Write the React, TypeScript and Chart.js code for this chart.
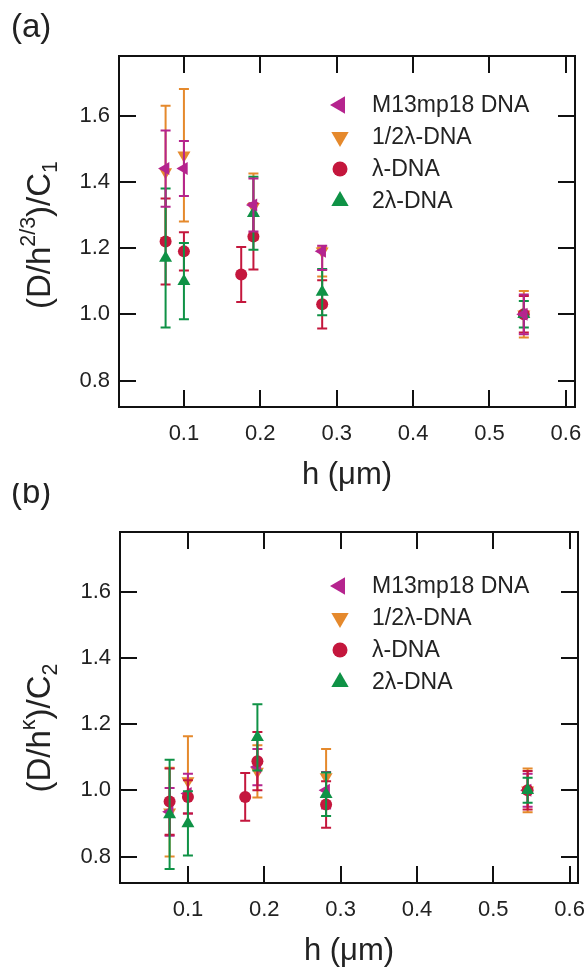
import React, { useEffect, useRef } from "react";
import { Chart, registerables } from "chart.js";
Chart.register(...registerables);

const FONT = "'Liberation Sans', Arial, sans-serif";

const seriesNames = ["M13mp18 DNA", "1/2λ-DNA", "λ-DNA", "2λ-DNA"];
const seriesColors = ["#b5248e", "#e5892c", "#c4173d", "#0f9246"];
const xTicks = [0.1, 0.2, 0.3, 0.4, 0.5, 0.6];
const yTicks = [0.8, 1.0, 1.2, 1.4, 1.6];

// h positions (µm) of each series
const hM13 = [0.076, 0.1, 0.191, 0.281, 0.545];
const hHalf = [0.076, 0.1, 0.191, 0.281, 0.545];
const hLambda = [0.076, 0.1, 0.175, 0.191, 0.281, 0.545];
const h2Lambda = [0.076, 0.1, 0.191, 0.281, 0.545];

// Panel (a): (D/h^{2/3})/C1
const aM13 = [1.44, 1.44, 1.33, 1.19, 1.0];
const aM13Lo = [0.115, 0.083, 0.08, 0.056, 0.06];
const aM13Hi = [0.115, 0.083, 0.08, 0.017, 0.06];
const aHalf = [1.43, 1.48, 1.325, 1.19, 1.0];
const aHalfLo = [0.2, 0.2, 0.1, 0.076, 0.07];
const aHalfHi = [0.2, 0.2, 0.1, 0.012, 0.07];
const aLambda = [1.22, 1.19, 1.12, 1.235, 1.03, 1.0];
const aLambdaErr = [0.13, 0.058, 0.083, 0.1, 0.073, 0.055];
const a2Lambda = [1.17, 1.1, 1.305, 1.067, 1.0];
const a2LambdaErr = [0.21, 0.115, 0.11, 0.07, 0.04];

// Panel (b): (D/h^κ)/C2
const bM13 = [0.935, 0.99, 1.07, 1.0, 1.0];
const bM13Err = [0.072, 0.06, 0.055, 0.055, 0.05];
const bHalf = [0.934, 1.028, 1.057, 1.04, 1.0];
const bHalfErr = [0.134, 0.135, 0.079, 0.085, 0.066];
const bLambda = [0.966, 0.98, 0.98, 1.088, 0.957, 1.0];
const bLambdaErr = [0.1, 0.05, 0.072, 0.088, 0.07, 0.058];
const b2Lambda = [0.927, 0.9, 1.16, 0.988, 1.0];
const b2LambdaErr = [0.165, 0.097, 0.1, 0.066, 0.038];

const markerStyles = [
  { style: "triangle", rotation: -90, r: 7.5, lr: 10 },
  { style: "triangle", rotation: 180, r: 7.5, lr: 10 },
  { style: "circle", rotation: 0, r: 6, lr: 7.5 },
  { style: "triangle", rotation: 0, r: 7.5, lr: 10 },
];

function drawMarker(ctx: CanvasRenderingContext2D, kind: number, x: number, y: number, r: number, color: string) {
  const m = markerStyles[kind];
  ctx.save();
  ctx.fillStyle = color;
  ctx.beginPath();
  if (m.style === "circle") {
    ctx.arc(x, y, r, 0, Math.PI * 2);
  } else {
    let rad = (m.rotation * Math.PI) / 180;
    ctx.moveTo(x + Math.sin(rad) * r, y - Math.cos(rad) * r);
    rad += (2 * Math.PI) / 3;
    ctx.lineTo(x + Math.sin(rad) * r, y - Math.cos(rad) * r);
    rad += (2 * Math.PI) / 3;
    ctx.lineTo(x + Math.sin(rad) * r, y - Math.cos(rad) * r);
    ctx.closePath();
  }
  ctx.fill();
  ctx.restore();
}

type Seg = { t: string; k: "n" | "sup" | "sub" };

type Panel = {
  label: string;
  titleSegs: Seg[];
  titleCenterY: number;
  xMin: number;
  xMax: number;
  padTop: number;
  padRight: number;
  yAxisWidth: number;
  xAxisHeight: number;
  height: number;
  legendX: number;
  legendY: number;
  labelY: number;
  order: number[];
  series: { xs: number[]; ys: number[]; lo: number[]; hi: number[] }[];
};

const panelA: Panel = {
  label: "(a)",
  titleSegs: [
    { t: "(D/h", k: "n" },
    { t: "2/3", k: "sup" },
    { t: ")/C", k: "n" },
    { t: "1", k: "sub" },
  ],
  titleCenterY: 235,
  xMin: 0.015,
  xMax: 0.612,
  padTop: 56,
  padRight: 12,
  yAxisWidth: 119,
  xAxisHeight: 93,
  height: 500,
  legendX: 340,
  legendY: 105,
  labelY: 28,
  order: [1, 4, 3, 2],
  series: [
    { xs: hM13, ys: aM13, lo: aM13Lo, hi: aM13Hi },
    { xs: hHalf, ys: aHalf, lo: aHalfLo, hi: aHalfHi },
    { xs: hLambda, ys: aLambda, lo: aLambdaErr, hi: aLambdaErr },
    { xs: h2Lambda, ys: a2Lambda, lo: a2LambdaErr, hi: a2LambdaErr },
  ],
};

const panelB: Panel = {
  label: "(b)",
  titleSegs: [
    { t: "(D/h", k: "n" },
    { t: "κ", k: "sup" },
    { t: ")/C", k: "n" },
    { t: "2", k: "sub" },
  ],
  titleCenterY: 728 - 483,
  xMin: 0.011,
  xMax: 0.611,
  padTop: 49,
  padRight: 9,
  yAxisWidth: 120,
  xAxisHeight: 84,
  height: 484,
  legendX: 340,
  legendY: 103,
  labelY: 11,
  order: [3, 4, 2, 1],
  series: [
    { xs: hM13, ys: bM13, lo: bM13Err, hi: bM13Err },
    { xs: hHalf, ys: bHalf, lo: bHalfErr, hi: bHalfErr },
    { xs: hLambda, ys: bLambda, lo: bLambdaErr, hi: bLambdaErr },
    { xs: h2Lambda, ys: b2Lambda, lo: b2LambdaErr, hi: b2LambdaErr },
  ],
};

function makePlugin(p: Panel) {
  return {
    id: "decor",
    beforeDatasetDraw(chart: any, args: any) {
      const ds = chart.data.datasets[args.index];
      const ctx = chart.ctx as CanvasRenderingContext2D;
      const xs = chart.scales.x;
      const ys = chart.scales.y;
      ctx.save();
      ctx.strokeStyle = ds.backgroundColor;
      ctx.lineWidth = 2;
      ds.data.forEach((pt: any, i: number) => {
        const px = xs.getPixelForValue(pt.x);
        const top = ys.getPixelForValue(pt.y + ds.errHi[i]);
        const bot = ys.getPixelForValue(pt.y - ds.errLo[i]);
        ctx.beginPath();
        ctx.moveTo(px, top);
        ctx.lineTo(px, bot);
        ctx.moveTo(px - 5, top);
        ctx.lineTo(px + 5, top);
        ctx.moveTo(px - 5, bot);
        ctx.lineTo(px + 5, bot);
        ctx.stroke();
      });
      ctx.restore();
    },
    afterDraw(chart: any) {
      const ctx = chart.ctx as CanvasRenderingContext2D;
      const a = chart.chartArea;
      const xs = chart.scales.x;
      const ys = chart.scales.y;
      ctx.save();
      ctx.strokeStyle = "#111";
      ctx.lineWidth = 2;
      ctx.strokeRect(a.left, a.top, a.right - a.left, a.bottom - a.top);
      const TL = 17;
      ctx.beginPath();
      xTicks.forEach((v) => {
        const px = Math.round(xs.getPixelForValue(v));
        ctx.moveTo(px, a.bottom);
        ctx.lineTo(px, a.bottom - TL);
        ctx.moveTo(px, a.top);
        ctx.lineTo(px, a.top + TL);
      });
      yTicks.forEach((v) => {
        const py = Math.round(ys.getPixelForValue(v));
        ctx.moveTo(a.left, py);
        ctx.lineTo(a.left + TL, py);
        ctx.moveTo(a.right, py);
        ctx.lineTo(a.right - TL, py);
      });
      ctx.stroke();

      // legend
      ctx.fillStyle = "#222";
      ctx.font = `23px ${FONT}`;
      ctx.textBaseline = "middle";
      ctx.textAlign = "left";
      seriesNames.forEach((name, i) => {
        const y = p.legendY + i * 32;
        drawMarker(ctx, i, p.legendX, y, markerStyles[i].lr, seriesColors[i]);
        ctx.fillStyle = "#222";
        ctx.fillText(name, p.legendX + 32, y + 1);
      });

      // x title
      ctx.font = `31px ${FONT}`;
      ctx.textAlign = "center";
      ctx.textBaseline = "alphabetic";
      ctx.fillText("h (μm)", (a.left + a.right) / 2, a.bottom + 77);

      // panel label
      ctx.font = `33px ${FONT}`;
      ctx.textAlign = "left";
      ctx.textBaseline = "middle";
      ctx.fillText(p.label, 11, p.labelY);

      // y title
      const fs = 33;
      const small = fs * 0.65;
      ctx.save();
      ctx.translate(50, p.titleCenterY);
      ctx.rotate(-Math.PI / 2);
      ctx.textAlign = "left";
      ctx.textBaseline = "alphabetic";
      let total = 0;
      p.titleSegs.forEach((s) => {
        ctx.font = `${s.k === "n" ? fs : small}px ${FONT}`;
        total += ctx.measureText(s.t).width;
      });
      let cx = -total / 2;
      p.titleSegs.forEach((s) => {
        ctx.font = `${s.k === "n" ? fs : small}px ${FONT}`;
        const dy = s.k === "sup" ? -fs * 0.45 : s.k === "sub" ? fs * 0.2 : 0;
        ctx.fillText(s.t, cx, dy);
        cx += ctx.measureText(s.t).width;
      });
      ctx.restore();
      ctx.restore();
    },
  };
}

function PanelChart({ p, top }: { p: Panel; top: number }) {
  const ref = useRef<HTMLCanvasElement | null>(null);
  useEffect(() => {
    if (!ref.current) return;
    const datasets = p.series.map((s, i) => ({
      label: seriesNames[i],
      data: s.xs.map((x, j) => ({ x, y: s.ys[j] })),
      errLo: s.lo,
      errHi: s.hi,
      order: p.order[i],
      pointStyle: markerStyles[i].style,
      rotation: markerStyles[i].rotation,
      pointRadius: markerStyles[i].r,
      pointBorderWidth: 0,
      backgroundColor: seriesColors[i],
      borderColor: seriesColors[i],
      showLine: false,
    }));
    const tickFont = { family: FONT, size: 22 };
    const chart = new Chart(ref.current, {
      type: "scatter",
      data: { datasets } as any,
      options: {
        responsive: false,
        animation: false,
        devicePixelRatio: 1,
        layout: { padding: { top: p.padTop, right: p.padRight, left: 0, bottom: 0 } },
        plugins: { legend: { display: false }, tooltip: { enabled: false } },
        scales: {
          x: {
            type: "linear",
            min: p.xMin,
            max: p.xMax,
            grid: { display: false, drawTicks: false },
            border: { display: false },
            afterBuildTicks: (s: any) => {
              s.ticks = xTicks.map((v) => ({ value: v }));
            },
            afterFit: (s: any) => {
              s.height = p.xAxisHeight;
              s.paddingLeft = 0;
              s.paddingRight = 0;
            },
            ticks: {
              padding: 14,
              font: tickFont,
              color: "#222",
              maxRotation: 0,
              autoSkip: false,
              callback: (v: any) => Number(v).toFixed(1),
            },
          },
          y: {
            type: "linear",
            min: 0.72,
            max: 1.78,
            grid: { display: false, drawTicks: false },
            border: { display: false },
            afterBuildTicks: (s: any) => {
              s.ticks = yTicks.map((v) => ({ value: v }));
            },
            afterFit: (s: any) => {
              s.width = p.yAxisWidth;
              s.paddingTop = 0;
              s.paddingBottom = 0;
            },
            ticks: {
              padding: 9,
              font: tickFont,
              color: "#222",
              autoSkip: false,
              callback: (v: any) => Number(v).toFixed(1),
            },
          },
        },
      } as any,
      plugins: [makePlugin(p) as any],
    });
    return () => chart.destroy();
  }, [p]);
  return (
    <canvas
      ref={ref}
      width={587}
      height={p.height}
      style={{ position: "absolute", left: 0, top, width: 587, height: p.height }}
    />
  );
}

export default function App() {
  return (
    <div style={{ position: "absolute", left: 0, top: 0, width: 587, height: 967, background: "#fff" }}>
      <PanelChart p={panelA} top={0} />
      <PanelChart p={panelB} top={483} />
    </div>
  );
}
